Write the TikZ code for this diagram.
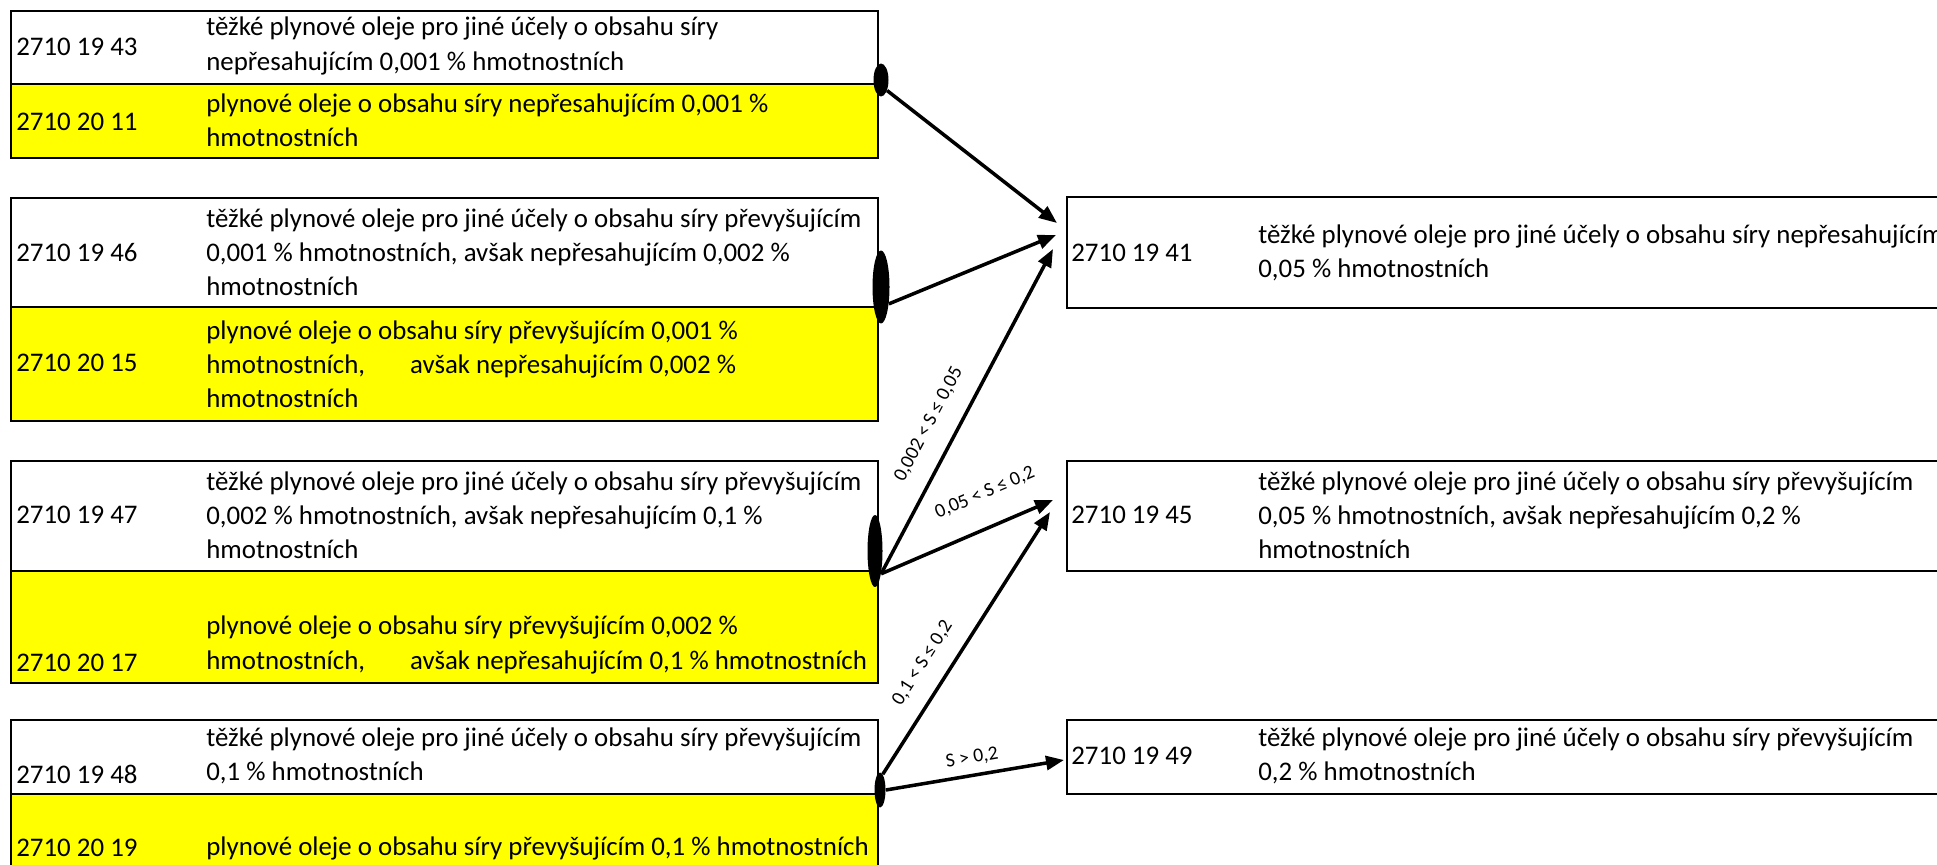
\documentclass[tikz,border=0pt]{standalone}
\usepackage{fontspec}
\setmainfont{Carlito}
\usetikzlibrary{arrows.meta,shapes.geometric}
\definecolor{hl}{RGB}{255,255,0}

\begin{document}
\begin{tikzpicture}[x=0.02cm, y=-0.02cm,
  box/.style={rectangle, draw, line width=1.4pt, anchor=north west, minimum width=17.34cm, inner sep=0pt},
  ybox/.style={box, fill=hl},
  rbox/.style={box, minimum width=18cm},
  code/.style={anchor=west, inner sep=0pt, font=\fontsize{15.3}{19.4}\selectfont},
  desc/.style={code, align=left},
  dot/.style={ellipse, fill=black, inner sep=0pt},
  arr/.style={-{Triangle[length=0.36cm,width=0.28cm]}, line width=2pt},
  lbl/.style={font=\fontsize{11.2}{13}\selectfont, sloped, above, inner sep=#1},
  lbl/.default=4pt]
\useasboundingbox (0,0) rectangle (1937,865);
\clip (0,0) rectangle (1937,865);

% levá strana: staré kódy
\node[box, minimum height=1.46cm] (w43) at (10,10) {};
\node[ybox, minimum height=1.48cm] (y11) at (10,83) {};
\node[box, minimum height=2.18cm] (w46) at (10,197) {};
\node[ybox, minimum height=2.28cm] (y15) at (10,306) {};
\node[box, minimum height=2.2cm] (w47) at (10,460) {};
\node[ybox, minimum height=2.24cm] (y17) at (10,570) {};
\node[box, minimum height=1.48cm] (w48) at (10,719) {};
\node[ybox, minimum height=2cm] (y19) at (10,793) {};

\node[code] (c43) at (16,47) {2710 19 43};
\node[desc] (t43) at (206,46) {těžké plynové oleje pro jiné účely o obsahu síry\\nepřesahujícím 0,001 \% hmotnostních};
\node[code] (c11) at (16,122) {2710 20 11};
\node[desc] (t11) at (206,120) {plynové oleje o obsahu síry nepřesahujícím 0,001 \%\\hmotnostních};
\node[code] (c46) at (16,253) {2710 19 46};
\node[desc] (t46) at (206,252) {těžké plynové oleje pro jiné účely o obsahu síry převyšujícím\\0,001 \% hmotnostních, avšak nepřesahujícím 0,002 \%\\hmotnostních};
\node[code] (c15) at (16,363) {2710 20 15};
\node[desc] (t15) at (206,364) {plynové oleje o obsahu síry převyšujícím 0,001 \%\\hmotnostních,\hspace*{0.9cm}avšak nepřesahujícím 0,002 \%\\hmotnostních};
\node[code] (c47) at (16,515) {2710 19 47};
\node[desc] (t47) at (206,515) {těžké plynové oleje pro jiné účely o obsahu síry převyšujícím\\0,002 \% hmotnostních, avšak nepřesahujícím 0,1 \%\\hmotnostních};
\node[code] (c17) at (16,663) {2710 20 17};
\node[desc] (t17) at (206,645) {plynové oleje o obsahu síry převyšujícím 0,002 \%\\hmotnostních,\hspace*{0.9cm}avšak nepřesahujícím 0,1 \% hmotnostních};
\node[code] (c48) at (16,774) {2710 19 48};
\node[desc] (t48) at (206,756) {těžké plynové oleje pro jiné účely o obsahu síry převyšujícím\\0,1 \% hmotnostních};
\node[code] (c19) at (16,848) {2710 20 19};
\node[desc] (t19) at (206,848) {plynové oleje o obsahu síry převyšujícím 0,1 \% hmotnostních};

% pravá strana: nové kódy
\node[rbox, minimum height=2.22cm] (r41) at (1066,196) {};
\node[rbox, minimum height=2.2cm] (r45) at (1066,460) {};
\node[rbox, minimum height=1.48cm] (r49) at (1066,719) {};

\node[code] (c41) at (1071,253) {2710 19 41};
\node[desc] (t41) at (1258,253) {těžké plynové oleje pro jiné účely o obsahu síry nepřesahujícím\\0,05 \% hmotnostních};
\node[code] (c45) at (1071,515) {2710 19 45};
\node[desc] (t45) at (1258,515) {těžké plynové oleje pro jiné účely o obsahu síry převyšujícím\\0,05 \% hmotnostních, avšak nepřesahujícím 0,2 \%\\hmotnostních};
\node[code] (c49) at (1071,756) {2710 19 49};
\node[desc] (t49) at (1258,756) {těžké plynové oleje pro jiné účely o obsahu síry převyšujícím\\0,2 \% hmotnostních};

% spojky
\node[dot, minimum width=0.3cm, minimum height=0.66cm] (d1) at (881,80) {};
\node[dot, minimum width=0.34cm, minimum height=1.46cm] (d2) at (881,287) {};
\node[dot, minimum width=0.3cm, minimum height=1.44cm] (d3) at (875,551) {};
\node[dot, minimum width=0.22cm, minimum height=0.7cm] (d4) at (880,790) {};

\coordinate (e1) at (1057,223);
\coordinate (e2) at (1056,235);
\coordinate (e3) at (1053,249);
\coordinate (e4) at (1053,500);
\coordinate (e5) at (1050,512);
\coordinate (e6) at (1064,760);

\draw[arr] (d1.-60) -- (e1);
\draw[arr] (d2.-65) -- (e2);
\draw[arr] (d3.-75) -- (e3) node[lbl=10.5pt, pos=0.42] (s1) {0,002 < S ≤ 0,05};
\draw[arr] (d3.-75) -- (e4) node[lbl=13.5pt, pos=0.68] (s2) {0,05 < S ≤ 0,2};
\draw[arr] (d4.80) -- (e5) node[lbl=9.5pt, pos=0.37] (s3) {0,1 < S ≤ 0,2};
\draw[arr] (d4.east) -- (e6) node[lbl=4.5pt, pos=0.5] (s4) {S > 0,2};
\end{tikzpicture}
\end{document}
